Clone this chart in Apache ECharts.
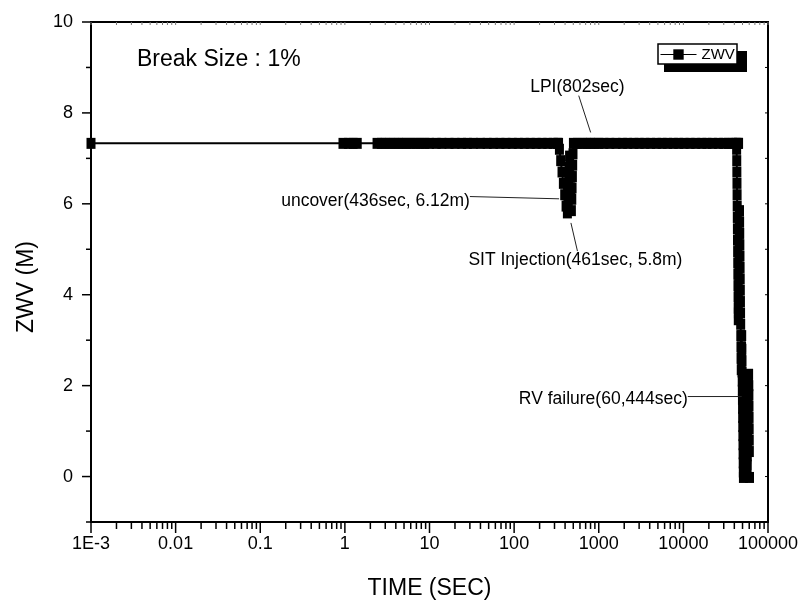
<!DOCTYPE html>
<html>
<head>
<meta charset="utf-8">
<title>ZWV - Break Size 1%</title>
<script src="https://cdn.jsdelivr.net/npm/echarts@6/dist/echarts.min.js"></script>
<style>
	html, body { margin: 0; padding: 0; background: #fff; }
	#chart { width: 802px; height: 605px; }
</style>
</head>
<body>
<div id="chart"></div>
<script>
const FONT = '"Liberation Sans", Arial, sans-serif';

// [time (sec), ZWV (m)], phase by phase
const earlyPhase = [
	[0.001, 7.33], [0.95, 7.33], [1.1, 7.33], [1.25, 7.33], [1.4, 7.33],
	[2.4, 7.33], [2.7, 7.33], [3.0, 7.33], [3.4, 7.33], [3.8, 7.33],
	[4.3, 7.33], [4.8, 7.33], [5.4, 7.33], [6.1, 7.33], [6.9, 7.33],
	[7.8, 7.33], [8.8, 7.33], [10, 7.33], [12, 7.33], [14, 7.33],
	[17, 7.33], [20, 7.33], [24, 7.33], [28, 7.33], [33, 7.33],
	[40, 7.33], [48, 7.33], [57, 7.33], [68, 7.33], [80, 7.33],
	[95, 7.33], [112, 7.33], [132, 7.33], [155, 7.33], [182, 7.33],
	[214, 7.33], [250, 7.33], [290, 7.33], [325, 7.33]
];
// core uncovery and SIT injection (level swings while it falls)
const dipPhase = [
	[335, 7.33], [343, 7.2], [355, 6.95], [368, 6.7], [382, 6.45],
	[396, 6.2], [411, 5.95], [426, 5.8], [432, 6.05], [437, 6.3],
	[442, 6.55], [447, 6.8], [452, 7.05], [456, 6.85], [460, 6.6],
	[464, 6.35], [469, 6.12], [475, 5.85], [480, 6.1], [484, 6.35],
	[488, 6.6], [492, 6.85], [496, 7.1], [502, 7.33]
];
const lpiPhase = [
	[560, 7.33], [640, 7.33], [720, 7.33], [802, 7.33], [900, 7.33],
	[1000, 7.33], [1150, 7.33], [1350, 7.33], [1600, 7.33], [1900, 7.33],
	[2200, 7.33], [2600, 7.33], [3000, 7.33], [3500, 7.33], [4100, 7.33],
	[4800, 7.33], [5600, 7.33], [6500, 7.33], [7600, 7.33], [8800, 7.33],
	[10200, 7.33], [12000, 7.33], [14000, 7.33], [16500, 7.33], [19000, 7.33],
	[22000, 7.33], [26000, 7.33], [30000, 7.33], [34000, 7.33], [38000, 7.33],
	[42000, 7.33], [44300, 7.33], [44900, 7.33]
];
// boil-off down to about 2.3 m, level sloshing up and down
const drainPhase = [
	[42600, 7.2], [42730, 6.95], [42860, 6.7], [42990, 6.45], [43120, 6.2],
	[43250, 5.95], [43380, 5.7], [43510, 5.45], [43640, 5.2], [43770, 4.95],
	[43900, 4.7], [44030, 4.45], [44160, 4.2], [44290, 3.95], [44420, 3.7],
	[44550, 3.45], [44700, 3.6], [44850, 3.85], [45000, 4.1], [45150, 4.35],
	[45300, 4.6], [45450, 4.85], [45600, 5.1], [45750, 5.35], [45900, 5.6],
	[46050, 5.85], [46200, 5.6], [46350, 5.35], [46500, 5.1], [46650, 4.85],
	[46800, 4.6], [46950, 4.35], [47100, 4.1], [47250, 3.85], [47400, 3.6],
	[47550, 3.35], [47700, 3.1], [47900, 2.85], [48100, 2.6], [48300, 2.35],
	[48500, 2.6], [48700, 2.85], [48900, 3.1], [49100, 2.8], [49300, 2.55],
	[49450, 2.3]
];
// lower plenum dry-out until RV failure
const failurePhase = [
	[49600, 2.1], [49750, 1.9], [49900, 1.7], [50050, 1.5], [50200, 1.3],
	[50350, 1.1], [50500, 0.9], [50650, 0.7], [50800, 0.5], [50950, 0.3],
	[51100, 0.1], [51250, -0.02], [51500, 0.15], [51720, 0.35], [51940, 0.55],
	[52160, 0.75], [52380, 0.95], [52600, 1.15], [52820, 1.35], [53040, 1.55],
	[53260, 1.75], [53480, 1.95], [53700, 2.15], [54000, 2.0], [54240, 1.8],
	[54480, 1.6], [54720, 1.4], [54960, 1.2], [55200, 1.0], [55440, 0.8],
	[55680, 0.6], [55920, 0.4], [56160, 0.2], [56400, 0.0], [56700, 0.25],
	[56930, 0.45], [57160, 0.65], [57390, 0.85], [57620, 1.05], [57850, 1.25],
	[58080, 1.45], [58310, 1.65], [58540, 1.85], [58770, 2.05], [59000, 2.25],
	[59300, 2.0], [59450, 1.8], [59600, 1.55], [59750, 1.3], [59900, 1.05],
	[60050, 0.8], [60200, 0.55], [60444, -0.02]
];

// axis ticks
const xDecades = [0.001, 0.01, 0.1, 1, 10, 100, 1000, 10000, 100000];
const xMinorSteps = [2, 3, 4, 5, 6, 7, 8, 9];
const yMajorTicks = [0, 2, 4, 6, 8, 10];
const yMinorTicks = [-1, 1, 3, 5, 7, 9];

const annotations = [
	{ label: "LPI(802sec)", textAt: [559, 8.56], align: "center", lineFrom: [580, 8.38], lineTo: [802, 7.57] },
	{ label: "uncover(436sec, 6.12m)", textAt: [30, 6.06], align: "right", lineFrom: [30, 6.16], lineTo: [340, 6.11] },
	{ label: "SIT Injection(461sec, 5.8m)", textAt: [530, 4.75], align: "center", lineFrom: [560, 4.96], lineTo: [469, 5.58] },
	{ label: "RV failure(60,444sec)", textAt: [11270, 1.71], align: "right", lineFrom: [11270, 1.76], lineTo: [48900, 1.76] }
];

const X_MIN = 0.001, X_MAX = 100000, Y_MIN = -1, Y_MAX = 10;

const zwvData = [].concat(earlyPhase, dipPhase, lpiPhase, drainPhase, failurePhase);

const xMinorTicks = [];
xDecades.slice(0, -1).forEach(d => xMinorSteps.forEach(m => xMinorTicks.push(m * d)));

function tickSeries(points, dx, dy, width, color) {
	return {
		type: "custom",
		silent: true,
		clip: false,
		z: 5,
		data: points,
		renderItem(params, api) {
			const p = api.coord([api.value(0), api.value(1)]);
			return {
				type: "line",
				shape: { x1: p[0], y1: p[1], x2: p[0] + dx, y2: p[1] + dy },
				style: { stroke: color || "#000", lineWidth: width }
			};
		}
	};
}

const yAll = yMajorTicks.concat(yMinorTicks);

const chart = echarts.init(document.getElementById("chart"));

const option = {
	animation: false,
	backgroundColor: "#fff",
	textStyle: { fontFamily: FONT, color: "#000" },
	title: {
		text: "Break Size : 1%",
		left: 137,
		top: 48,
		padding: 0,
		textStyle: { fontFamily: FONT, fontSize: 23, fontWeight: "normal", color: "#000" }
	},
	grid: {
		left: 91,
		right: 34,
		top: 22,
		bottom: 79,
		show: true,
		borderColor: "#000",
		borderWidth: 2,
		containLabel: false
	},
	legend: {
		data: ["ZWV"],
		left: 660,
		top: 47,
		z: 110,
		padding: 0,
		itemWidth: 36,
		itemHeight: 13,
		lineStyle: { width: 1 },
		textStyle: { fontFamily: FONT, fontSize: 15, color: "#000" }
	},
	xAxis: {
		type: "log",
		logBase: 10,
		min: X_MIN,
		max: X_MAX,
		interval: 1,
		name: "TIME (SEC)",
		nameLocation: "middle",
		nameGap: 55,
		nameTextStyle: { fontFamily: FONT, fontSize: 23, color: "#000" },
		axisLine: { show: true, onZero: false, lineStyle: { color: "#000", width: 2 } },
		axisTick: { show: false },
		minorTick: { show: false },
		splitLine: { show: false },
		axisLabel: {
			margin: 13,
			fontFamily: FONT,
			fontSize: 18,
			color: "#000",
			showMinLabel: true,
			showMaxLabel: true,
			formatter: v => (v < 0.005 ? "1E-3" : String(+v.toPrecision(6)))
		}
	},
	yAxis: {
		type: "value",
		min: Y_MIN,
		max: Y_MAX,
		interval: 1,
		name: "ZWV (M)",
		nameLocation: "middle",
		nameGap: 53,
		nameTextStyle: { fontFamily: FONT, fontSize: 23, color: "#000", padding: [0, 30, 0, 0] },
		axisLine: { show: true, onZero: false, lineStyle: { color: "#000", width: 2 } },
		axisTick: { show: false },
		splitLine: { show: false },
		axisLabel: {
			margin: 18,
			fontFamily: FONT,
			fontSize: 18,
			color: "#000",
			formatter: v => (yMajorTicks.indexOf(v) >= 0 ? String(v) : "")
		}
	},
	series: [
		{
			name: "ZWV",
			type: "line",
			data: zwvData,
			symbol: "rect",
			symbolSize: [9, 11],
			showAllSymbol: true,
			z: 3,
			itemStyle: { color: "#000" },
			lineStyle: { color: "#000", width: 2 }
		},
		// outward ticks on bottom and left, small inward ticks on top and right
		tickSeries(xDecades.map(t => [t, Y_MIN]), 0, 11, 1.5),
		tickSeries(xMinorTicks.map(t => [t, Y_MIN]), 0, 7, 1.5),
		tickSeries(yMajorTicks.map(v => [X_MIN, v]), -9, 0, 1.5),
		tickSeries(yMinorTicks.map(v => [X_MIN, v]), -5, 0, 1.5),
		tickSeries(yAll.map(v => [X_MAX, v]), -3, 0, 1),
		tickSeries(xDecades.concat(xMinorTicks).map(t => [t, Y_MAX]), 0, 3, 1, "#777")
	]
};

chart.setOption(option);

const px = p => chart.convertToPixel({ gridIndex: 0 }, p);

const graphics = [
	// legend box with its drop shadow
	{ type: "rect", z: 100, shape: { x: 664, y: 51, width: 83, height: 21 }, style: { fill: "#000" } },
	{ type: "rect", z: 101, shape: { x: 658, y: 44, width: 79, height: 20 }, style: { fill: "#fff", stroke: "#000", lineWidth: 1.5 } }
];

annotations.forEach(a => {
	const t = px(a.textAt);
	const f = px(a.lineFrom);
	const e = px(a.lineTo);
	graphics.push({
		type: "text",
		z: 50,
		x: t[0],
		y: t[1],
		style: {
			text: a.label,
			fontFamily: FONT,
			fontSize: 17.5,
			fill: "#000",
			align: a.align,
			verticalAlign: "middle"
		}
	});
	graphics.push({
		type: "line",
		z: 50,
		shape: { x1: f[0], y1: f[1], x2: e[0], y2: e[1] },
		style: { stroke: "#222", lineWidth: 1 }
	});
});

chart.setOption({ graphic: graphics });
</script>
</body>
</html>
